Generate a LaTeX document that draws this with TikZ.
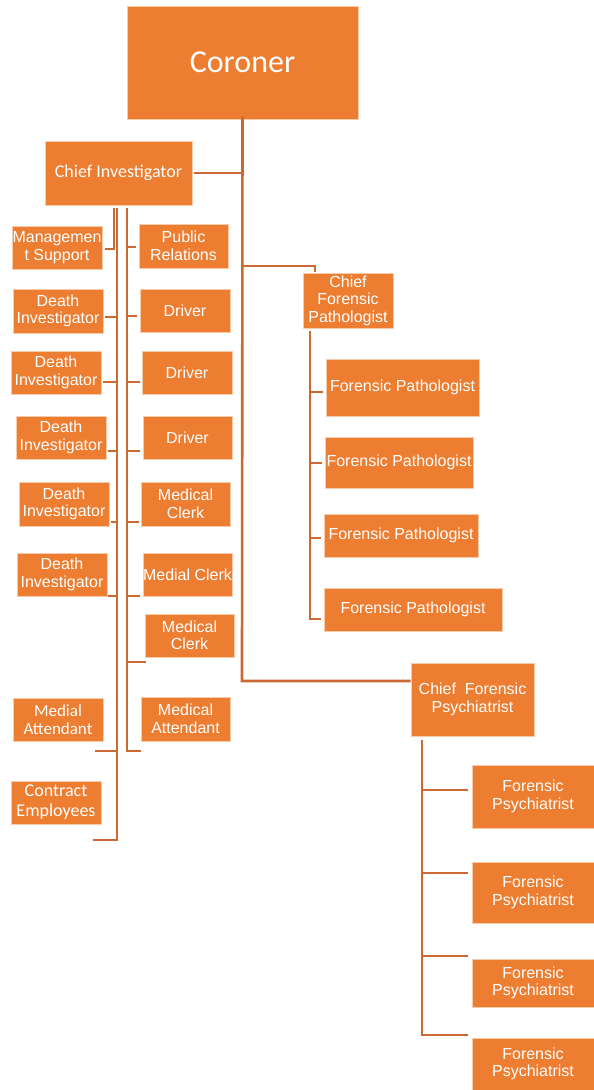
\documentclass[tikz,border=0pt]{standalone}
\usepackage{fontspec}
\setmainfont{Liberation Sans}
\newfontfamily\calib{Carlito}
\definecolor{boxfill}{RGB}{237,125,49}
\definecolor{boxedge}{RGB}{248,203,173}
\definecolor{linkc}{RGB}{203,105,50}
\begin{document}
\begin{tikzpicture}[x=1pt,y=-1pt,
  box/.style={rectangle, fill=boxfill, draw=boxedge, line width=0.6pt, inner sep=0pt,
    text=white, align=center, font=\fontsize{16}{17.5}\selectfont},
  cbox/.style={box, font=\calib\fontsize{18}{20}\selectfont},
  link/.style={draw=linkc, line width=2.6pt}]
\useasboundingbox (0,0) rectangle (594,1090);
% top
\node[box, font=\calib\fontsize{32}{36}\selectfont, minimum width=231, minimum height=113] (coroner) at (242.5,62.5) {Coroner};
\node[cbox, minimum width=147, minimum height=64] (ci) at (118.5,173) {Chief Investigator};
% left column
\node[box, minimum width=90, minimum height=43] (ms) at (57,247.5) {Managemen\\t Support};
\node[box, minimum width=90, minimum height=44] (di1) at (58,311) {Death\\Investigator};
\node[box, minimum width=90, minimum height=43] (di2) at (56,372.5) {Death\\Investigator};
\node[box, minimum width=90, minimum height=43] (di3) at (61,437.5) {Death\\Investigator};
\node[box, minimum width=90, minimum height=44] (di4) at (64,504) {Death\\Investigator};
\node[box, minimum width=90, minimum height=43] (di5) at (62,574.5) {Death\\Investigator};
\node[box, font=\calib\fontsize{17}{18.5}\selectfont, minimum width=90, minimum height=43] (mat) at (58,719.5) {Medial\\Attendant};
\node[cbox, minimum width=90, minimum height=43] (ce) at (56,802.5) {Contract\\Employees};
% right column
\node[box, minimum width=89, minimum height=44] (pr) at (183.5,246) {Public\\Relations};
\node[box, minimum width=90, minimum height=43] (dr1) at (185,310.5) {Driver};
\node[box, minimum width=90, minimum height=43] (dr2) at (187,372.5) {Driver};
\node[box, minimum width=89, minimum height=43] (dr3) at (187.5,437.5) {Driver};
\node[box, minimum width=89, minimum height=44] (mc1) at (185.5,504) {Medical\\Clerk};
\node[box, minimum width=89, minimum height=43] (mc2) at (187.5,574.5) {Medial Clerk};
\node[box, minimum width=89, minimum height=43] (mc3) at (189.5,635.5) {Medical\\Clerk};
\node[box, minimum width=89, minimum height=44] (ma) at (185.5,719) {Medical\\Attendant};
% pathologists
\node[box, minimum width=90, minimum height=55] (cfp) at (348,300.5) {Chief\\Forensic\\Pathologist};
\node[box, minimum width=153, minimum height=57] (fp1) at (402.5,387.5) {Forensic Pathologist};
\node[box, minimum width=148, minimum height=51] (fp2) at (399,462.5) {Forensic Pathologist};
\node[box, minimum width=154, minimum height=43] (fp3) at (401,535.5) {Forensic Pathologist};
\node[box, minimum width=178, minimum height=43] (fp4) at (413,609.5) {Forensic Pathologist};
% psychiatrists
\node[box, minimum width=123, minimum height=73] (cps) at (472.5,699.5) {Chief\ \ Forensic\\Psychiatrist};
\node[box, minimum width=122, minimum height=63] (ps1) at (533,796.5) {Forensic\\Psychiatrist};
\node[box, minimum width=122, minimum height=61] (ps2) at (533,892.5) {Forensic\\Psychiatrist};
\node[box, minimum width=122, minimum height=48] (ps3) at (533,983) {Forensic\\Psychiatrist};
\node[box, minimum width=122, minimum height=52] (ps4) at (533,1064) {Forensic\\Psychiatrist};
% junction coordinates
\coordinate (mainEnd) at (242,681);
\coordinate (cfpJ) at (242,266);
\coordinate (cfpTop) at (315,272);
\coordinate (lbTop) at (117,208);
\coordinate (lbBot) at (117,840);
\coordinate (rbTop) at (127,208);
\coordinate (rbBot) at (127,751);
\coordinate (msTop) at (114,208);
\coordinate (fpTop) at (310,331);
\coordinate (fpBot) at (310,619);
\coordinate (psTop) at (422,740);
\coordinate (psBot) at (422,1035);
% main trunk
\draw[link] ([yshift=3]coroner.south) -- (mainEnd) -- (mainEnd -| cps.west);
\draw[link] ([xshift=2]ci.east) -- (ci.east -| coroner.south);
\draw[link] (cfpJ) -| (cfpTop);
% left bus
\draw[link] (msTop) |- ([xshift=3]ms.east |- 0,249);
\draw[link] (lbTop) -- (lbBot) -- (93,840);
\draw[link] (lbTop |- 0,317) -- ([xshift=2]di1.east |- 0,317);
\draw[link] (lbTop |- 0,382) -- ([xshift=2]di2.east |- 0,382);
\draw[link] (lbTop |- 0,451) -- ([xshift=2]di3.east |- 0,451);
\draw[link] (lbTop |- 0,522) -- ([xshift=2]di4.east |- 0,522);
\draw[link] (lbTop |- 0,596) -- ([xshift=1]di5.east |- 0,596);
\draw[link] (lbTop |- 0,751) -- ([xshift=-8]mat.east |- 0,751);
% right bus
\draw[link] (rbTop) -- (rbBot) -- (rbBot -| ma.west);
\draw[link] (rbTop |- 0,247) -- ([xshift=-3]pr.west |- 0,247);
\draw[link] (rbTop |- 0,316) -- ([xshift=-3]dr1.west |- 0,316);
\draw[link] (rbTop |- 0,382) -- ([xshift=-2]dr2.west |- 0,382);
\draw[link] (rbTop |- 0,451) -- ([xshift=-3]dr3.west |- 0,451);
\draw[link] (rbTop |- 0,522) -- ([xshift=-2]mc1.west |- 0,522);
\draw[link] (rbTop |- 0,596) -- ([xshift=-3]mc2.west |- 0,596);
\draw[link] (rbTop |- 0,662) -- ([xshift=1]mc3.west |- 0,662);
% pathologist bus
\draw[link] (fpTop) -- (fpBot) -- ([xshift=-3]fp4.west |- 0,619);
\draw[link] (fpTop |- 0,392) -- ([xshift=-3]fp1.west |- 0,392);
\draw[link] (fpTop |- 0,463) -- ([xshift=-3]fp2.west |- 0,463);
\draw[link] (fpTop |- 0,538) -- ([xshift=-3]fp3.west |- 0,538);
% psychiatrist bus
\draw[link] (psTop) -- (psBot) -- ([xshift=-4]ps4.west |- 0,1035);
\draw[link] (psTop |- 0,790) -- ([xshift=-4]ps1.west |- 0,790);
\draw[link] (psTop |- 0,873) -- ([xshift=-4]ps2.west |- 0,873);
\draw[link] (psTop |- 0,956) -- ([xshift=-4]ps3.west |- 0,956);
\end{tikzpicture}
\end{document}
